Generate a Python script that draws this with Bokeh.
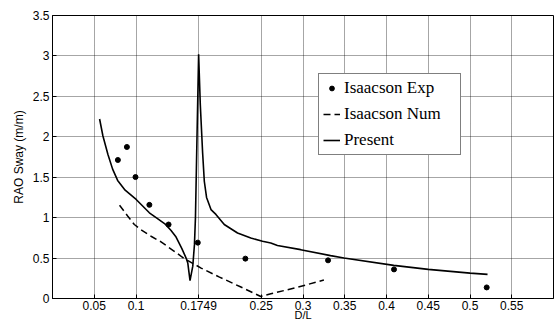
from bokeh.plotting import figure
from bokeh.models import Range1d, FixedTicker, Legend, LegendItem
from bokeh.embed import file_html
from bokeh.resources import INLINE

# Experimental points (Isaacson)
exp_x = [0.0783, 0.0891, 0.0994, 0.116, 0.139, 0.174, 0.231, 0.330, 0.409, 0.520]
exp_y = [1.713, 1.874, 1.502, 1.158, 0.915, 0.691, 0.493, 0.472, 0.360, 0.137]

# Numerical results (Isaacson)
num_x = [0.0803, 0.090, 0.098, 0.106, 0.118, 0.130, 0.145, 0.157, 0.178, 0.200,
         0.225, 0.2495, 0.2615, 0.290, 0.325]
num_y = [1.154, 1.020, 0.915, 0.850, 0.770, 0.700, 0.590, 0.500, 0.376, 0.265,
         0.145, 0.025, 0.058, 0.130, 0.228]

# Present computation
pre_x = [0.0564, 0.0604, 0.0664, 0.0720, 0.0780, 0.087, 0.1002, 0.116, 0.1241, 0.135,
         0.142, 0.148, 0.1548, 0.160, 0.162, 0.1647, 0.168, 0.170, 0.1712,
         0.1725, 0.175, 0.177, 0.1798, 0.1818, 0.1845, 0.1898, 0.1957, 0.2057,
         0.2216, 0.2375, 0.2515, 0.2614, 0.2694, 0.2972, 0.333, 0.349, 0.4087,
         0.450, 0.500, 0.521]
pre_y = [2.22, 2.01, 1.78, 1.60, 1.46, 1.34, 1.225, 1.06, 1.00, 0.92,
         0.84, 0.76, 0.62, 0.50, 0.44, 0.22, 0.40, 0.666, 1.0,
         1.7, 3.02, 2.4, 1.8, 1.45, 1.25, 1.10, 1.04, 0.915,
         0.81, 0.748, 0.707, 0.686, 0.655, 0.604, 0.53, 0.50, 0.41,
         0.36, 0.314, 0.298]

x_ticks = [0.05, 0.1, 0.1749, 0.25, 0.3, 0.35, 0.4, 0.45, 0.5, 0.55]
x_tick_labels = ["0.05", "0.1", "0.1749", "0.25", "0.3", "0.35", "0.4", "0.45", "0.5", "0.55"]
y_ticks = [0, 0.5, 1, 1.5, 2, 2.5, 3, 3.5]
y_tick_labels = ["0", "0.5", "1", "1.5", "2", "2.5", "3", "3.5"]

p = figure(width=554, height=323, output_backend="svg", toolbar_location=None,
           x_range=Range1d(0, 0.6), y_range=Range1d(0, 3.5),
           min_border_left=52, min_border_right=1, min_border_top=15,
           min_border_bottom=0)
p.background_fill_color = "white"
p.border_fill_color = "white"
p.outline_line_color = "black"
p.outline_line_width = 1

for ax in (p.xaxis[0], p.yaxis[0]):
    ax.axis_line_color = "black"
    ax.major_tick_in = 4
    ax.major_tick_out = 0
    ax.minor_tick_line_color = None
    ax.major_tick_line_color = "black"
    ax.major_label_text_font = "Liberation Sans"
    ax.major_label_text_font_size = "12px"
    ax.major_label_text_color = "black"
    ax.axis_label_text_font = "Liberation Sans"
    ax.axis_label_text_font_size = "12px"
    ax.axis_label_text_font_style = "normal"
    ax.axis_label_text_color = "black"

p.xaxis.ticker = FixedTicker(ticks=x_ticks)
p.xaxis.major_label_overrides = dict(zip(x_ticks, x_tick_labels))
p.yaxis.ticker = FixedTicker(ticks=y_ticks)
p.yaxis.major_label_overrides = dict(zip(y_ticks, y_tick_labels))
p.xaxis.axis_label = "D/L"
p.yaxis.axis_label = "RAO Sway (m/m)"
p.xaxis.axis_label_text_font_size = "11px"
p.xaxis.major_label_standoff = 2
p.xaxis.axis_label_standoff = -4
p.yaxis.major_label_standoff = 3
p.yaxis.axis_label_standoff = 4

for g in (p.xgrid[0], p.ygrid[0]):
    g.grid_line_color = "black"
    g.grid_line_dash = "1 1"
    g.grid_line_alpha = 0.7
    g.grid_line_width = 1

r_exp = p.scatter(exp_x, exp_y, size=5, color="black")
r_num = p.line(num_x, num_y, line_color="black", line_width=1.5, line_dash="7 4")
r_pre = p.line(pre_x, pre_y, line_color="black", line_width=1.6)

legend = Legend(items=[
    LegendItem(label="Isaacson Exp", renderers=[r_exp]),
    LegendItem(label="Isaacson Num", renderers=[r_num]),
    LegendItem(label="Present", renderers=[r_pre]),
], location=(266, 143))
legend.label_text_font = "Liberation Serif"
legend.label_text_font_size = "17px"
legend.label_text_color = "black"
legend.glyph_width = 17
legend.glyph_height = 12
legend.label_height = 20
legend.label_width = 112
legend.label_standoff = 4
legend.spacing = 6
legend.padding = 4
legend.margin = 0
legend.border_line_color = "black"
legend.border_line_width = 1
legend.background_fill_color = "white"
legend.background_fill_alpha = 1
p.add_layout(legend)

open("out.html", "w").write(file_html(p, INLINE))
